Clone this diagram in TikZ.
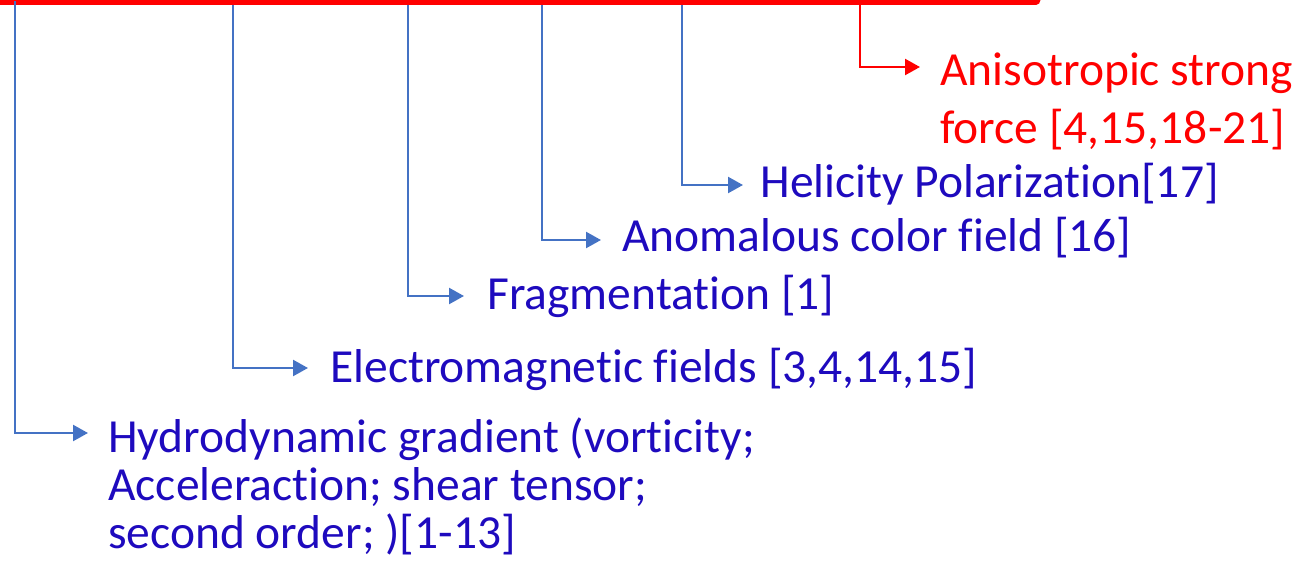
\documentclass[tikz,border=0pt]{standalone}
\usepackage{fontspec}
\setmainfont{Carlito}[Ligatures={NoCommon}]
\usetikzlibrary{arrows.meta}
\definecolor{linkblue}{RGB}{68,114,196}
\definecolor{labelblue}{RGB}{30,10,190}
\definecolor{accentred}{RGB}{255,0,0}
\tikzset{
  px/.style={x=0.5pt,y=-0.5pt},
  bar/.style={draw=accentred,line width=4.5pt,line cap=round},
  feed/.style={draw=linkblue,line width=1.2pt,-{Triangle[length=7.5pt,width=8pt]}},
  redfeed/.style={draw=accentred,line width=1.2pt,-{Triangle[length=7.5pt,width=8pt]}},
  label/.style={inner sep=0pt,anchor=base west,align=left,text=labelblue,
    font=\fontsize{23.75pt}{24pt}\selectfont},
  redlabel/.style={label,text=accentred,font=\fontsize{23.75pt}{29pt}\selectfont}
}
\begin{document}
\begin{tikzpicture}[px]
\useasboundingbox (0,0) rectangle (1312,573);
\begin{scope}
\clip (0,0) rectangle (1312,573);
% horizontal red trunk along the top edge
\draw[bar] (-20,0) -- (1036,0);
\end{scope}

% branch points on the trunk
\coordinate (b1) at (15,1);
\coordinate (b2) at (233,5);
\coordinate (b3) at (408,5);
\coordinate (b4) at (542,5);
\coordinate (b5) at (682,5);
\coordinate (b6) at (860,5);

% arrow tips
\coordinate (t1) at (88,433);
\coordinate (t2) at (308,368);
\coordinate (t3) at (464,296);
\coordinate (t4) at (601,240);
\coordinate (t5) at (743,185);
\coordinate (t6) at (920,67);

% labels (multi-line labels are placed by the baseline of their last line)
\node[label] (hydro) at (108,548) {Hydrodynamic gradient (vorticity;\\Acceleraction; shear tensor;\\second order; )[1-13]};
\node[label] (em) at (330,382) {Electromagnetic fields [3,4,14,15]};
\node[label] (frag) at (487,309) {Fragmentation [1]};
\node[label] (anom) at (622,251) {Anomalous color field [16]};
\node[label] (heli) at (760,197) {Helicity Polarization[17]};
\node[redlabel] (aniso) at (940,143) {Anisotropic strong\\force [4,15,18-21]};

% connectors
\draw[feed] (b1) |- (t1);
\draw[feed] (b2) |- (t2);
\draw[feed] (b3) |- (t3);
\draw[feed] (b4) |- (t4);
\draw[feed] (b5) |- (t5);
\draw[redfeed] (b6) |- (t6);
\end{tikzpicture}
\end{document}
